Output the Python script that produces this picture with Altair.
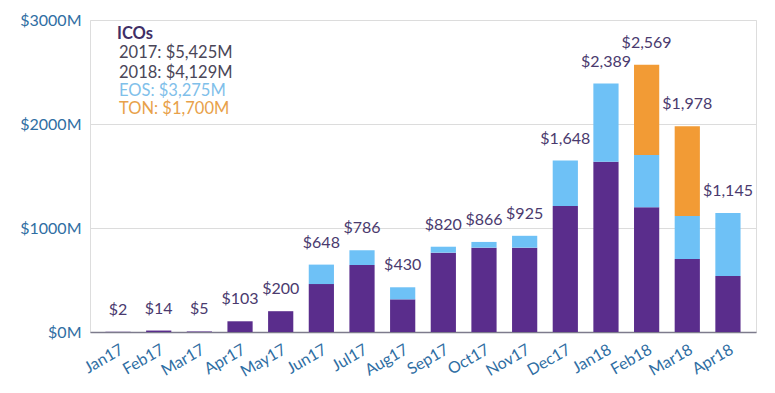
import altair as alt
import pandas as pd

months = ["Jan17", "Feb17", "Mar17", "Apr17", "May17", "Jun17", "Jul17", "Aug17",
          "Sep17", "Oct17", "Nov17", "Dec17", "Jan18", "Feb18", "Mar18", "Apr18"]
ico = [2, 14, 5, 103, 200, 461, 644, 314, 763, 811, 811, 1212, 1638, 1199, 702, 538]
eos = [0, 0, 0, 0, 0, 187, 142, 116, 57, 55, 114, 436, 751, 503, 413, 607]
ton = [0, 0, 0, 0, 0, 0, 0, 0, 0, 0, 0, 0, 0, 867, 863, 0]
totals = [2, 14, 5, 103, 200, 648, 786, 430, 820, 866, 925, 1648, 2389, 2569, 1978, 1145]

series = ["ICO", "EOS", "TON"]
series_colors = ["#5a2d8c", "#6ec1f6", "#f29b35"]

legend_lines = ["ICOs", "2017: $5,425M", "2018: $4,129M", "EOS: $3,275M", "TON: $1,700M"]
legend_colors = ["#3f2f66", "#4a4658", "#4a4658", "#7fc0ea", "#e8a14a"]

FONT = "Lato"

rows = []
for i, m in enumerate(months):
    for s, vals in zip(series, [ico, eos, ton]):
        rows.append({"month": m, "series": s, "value": vals[i], "order": series.index(s)})
bars_df = pd.DataFrame(rows)

tot_df = pd.DataFrame({"month": months, "total": totals,
                       "label": ["$" + format(t, ",") for t in totals]})

x_enc = alt.X("month:N", sort=months, title=None,
              scale=alt.Scale(paddingInner=0.38, paddingOuter=0.38),
              axis=alt.Axis(labelAngle=-30, labelAlign="right", labelBaseline="top",
                            labelFontSize=16, labelColor="#2f6ea3", labelFont=FONT,
                            labelPadding=9, ticks=False, domainColor="#7d7b8c",
                            domainWidth=1.5, grid=False))

y_scale = alt.Scale(domain=[0, 3000], nice=False)

bars = alt.Chart(bars_df).mark_bar().encode(
    x=x_enc,
    y=alt.Y("value:Q", stack="zero", scale=y_scale, title=None,
            axis=alt.Axis(values=[0, 1000, 2000, 3000],
                          labelExpr="'$' + datum.value + 'M'",
                          labelFontSize=16, labelColor="#2f6ea3", labelFont=FONT,
                          labelPadding=9, ticks=False, domain=False,
                          gridColor="#dcdcdc", gridWidth=1)),
    color=alt.Color("series:N", scale=alt.Scale(domain=series, range=series_colors), legend=None),
    order=alt.Order("order:Q"),
)

labels = alt.Chart(tot_df).mark_text(
    baseline="middle", dy=-22, fontSize=16, font=FONT, color="#4a3a6e"
).encode(
    x=alt.X("month:N", sort=months),
    y=alt.Y("total:Q", scale=y_scale),
    text="label:N",
)

legend_y = [14, 33, 53, 71, 89]
legend_x = [27, 29, 29, 29, 29]
legend_layers = []
for i, (t, c) in enumerate(zip(legend_lines, legend_colors)):
    ldf = pd.DataFrame({"text": [t]})
    legend_layers.append(
        alt.Chart(ldf).mark_text(
            align="left", baseline="middle", fontSize=16.5, font=FONT, color=c,
            fontWeight="bold" if i == 0 else "normal"
        ).encode(x=alt.value(legend_x[i]), y=alt.value(legend_y[i]), text="text:N")
    )

chart = alt.layer(bars, labels, *legend_layers).properties(
    width=666, height=312,
    autosize=alt.AutoSizeParams(type="none"),
    padding={"left": 82, "top": 12, "right": 11, "bottom": 53},
).configure_view(stroke=None).configure(background="white")

chart.save("out.html", embed_options={"renderer": "svg", "actions": False})
